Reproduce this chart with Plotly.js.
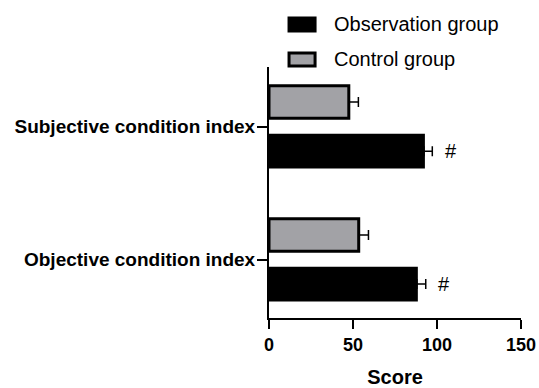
<!DOCTYPE html>
<html>
<head>
<meta charset="utf-8">
<script src="https://cdn.plot.ly/plotly-3.0.1.min.js"></script>
<style>html,body{margin:0;padding:0;background:#fff;}#chart{width:539px;height:388px;}</style>
</head>
<body>
<div id="chart"></div>
<script>
const categories = ['Objective condition index', 'Subjective condition index'];
const seriesNames = ['Observation group', 'Control group'];
const observation = [88.0, 92.2];
const observationErr = [5.3, 5.0];
const control = [53.4, 47.5];
const controlErr = [5.8, 5.7];
const significance = ['#', '#'];
const xTicks = [0, 50, 100, 150];

const FONT = 'Liberation Sans, Arial, sans-serif';
const GRAY = '#a2a2a6';

const traces = [
  {
    type: 'bar', orientation: 'h', name: seriesNames[0],
    y: categories, x: observation,
    marker: {color: '#000000', line: {color: '#000000', width: 2}},
    error_x: {type: 'data', symmetric: false, array: observationErr, arrayminus: [0, 0], color: '#000', thickness: 1.5, width: 5},
    showlegend: false
  },
  {
    type: 'bar', orientation: 'h', name: seriesNames[1],
    y: categories, x: control,
    marker: {color: GRAY, line: {color: '#000000', width: 3}},
    error_x: {type: 'data', symmetric: false, array: controlErr, arrayminus: [0, 0], color: '#000', thickness: 1.5, width: 5},
    showlegend: false
  }
];

const annotations = categories.map((c, i) => ({
  x: observation[i] + observationErr[i] + 11, y: i - 0.185,
  xref: 'x', yref: 'y', text: significance[i], showarrow: false,
  font: {family: FONT, size: 20, color: '#000'}
}));

// Custom legend
const legendRows = [
  {name: seriesNames[0], fill: '#000', y0: 1.143, y1: 1.195, ty: 1.171},
  {name: seriesNames[1], fill: GRAY, y0: 1.004, y1: 1.056, ty: 1.032}
];
const shapes = legendRows.map(r => ({
  type: 'rect', xref: 'paper', yref: 'paper', x0: 0.0795, x1: 0.1828, y0: r.y0, y1: r.y1,
  fillcolor: r.fill, line: {color: '#000', width: 3}
}));
legendRows.forEach(r => annotations.push({
  xref: 'paper', yref: 'paper', x: 0.2503, y: r.ty, xanchor: 'left', yanchor: 'middle',
  text: r.name, showarrow: false, font: {family: FONT, size: 20, color: '#000'}
}));

const layout = {
  width: 539, height: 388,
  margin: {l: 269, r: 18, t: 67, b: 70, pad: 0},
  paper_bgcolor: '#fff', plot_bgcolor: '#fff',
  barmode: 'group', bargap: 0.26, bargroupgap: 0.338,
  showlegend: false,
  font: {family: FONT, color: '#000'},
  xaxis: {
    range: [0, 150], tickvals: xTicks, ticktext: xTicks.map(String),
    showgrid: false, zeroline: false, showline: true, linecolor: '#000', linewidth: 2,
    ticks: 'outside', ticklen: 9, tickwidth: 2, tickcolor: '#000',
    tickfont: {family: FONT, size: 18, weight: 'bold', color: '#000'},
    title: {text: '<b>Score</b>', font: {family: FONT, size: 20, color: '#000'}, standoff: 24},
    automargin: false, fixedrange: true
  },
  yaxis: {
    type: 'category', categoryorder: 'array', categoryarray: categories,
    range: [-0.44, 1.448],
    showgrid: false, zeroline: false, showline: true, linecolor: '#000', linewidth: 2,
    ticks: 'outside', ticklen: 10, tickwidth: 2, tickcolor: '#000', ticklabelstandoff: -2,
    tickfont: {family: FONT, size: 19, weight: 'bold', color: '#000'},
    automargin: false, fixedrange: true
  },
  shapes: shapes,
  annotations: annotations
};

Plotly.newPlot('chart', traces, layout, {staticPlot: true, displayModeBar: false});
</script>
</body>
</html>
